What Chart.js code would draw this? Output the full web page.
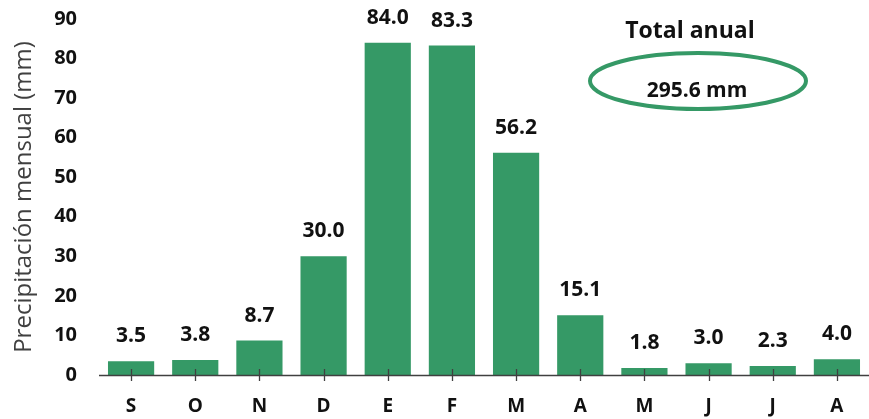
<!DOCTYPE html>
<html>
<head>
<meta charset="utf-8">
<script src="https://cdn.jsdelivr.net/npm/chart.js@4"></script>
<style>
  html, body { margin: 0; padding: 0; background: #fff; }
  #wrap { width: 869px; height: 419px; }
</style>
</head>
<body>
<div id="wrap"><canvas id="chart"></canvas></div>
<script>
// data
const months = ["S", "O", "N", "D", "E", "F", "M", "A", "M", "J", "J", "A"];
const precip = [3.5, 3.8, 8.7, 30.0, 84.0, 83.3, 56.2, 15.1, 1.8, 3.0, 2.3, 4.0];
const totalLabel = "Total anual";
const totalValue = "295.6 mm";

const green = "#359966";
const font = "'Open Sans', 'Liberation Sans', sans-serif";

// bar value labels, cross ticks on x axis and the total box
const extras = {
  id: "extras",
  afterDatasetsDraw(chart) {
    const ctx = chart.ctx;
    const meta = chart.getDatasetMeta(0);
    const x = chart.scales.x;
    const area = chart.chartArea;
    ctx.save();

    // axis line + ticks
    ctx.strokeStyle = "#404040";
    ctx.lineWidth = 1.3;
    ctx.beginPath();
    ctx.moveTo(area.left, area.bottom + 0.5);
    ctx.lineTo(area.right, area.bottom + 0.5);
    for (let i = 0; i < months.length; i++) {
      const px = Math.round(x.getPixelForTick(i)) + 0.5;
      ctx.moveTo(px, area.bottom - 6);
      ctx.lineTo(px, area.bottom + 6);
    }
    ctx.stroke();

    // value labels
    ctx.fillStyle = "#111";
    ctx.font = "bold 21px " + font;
    ctx.textAlign = "center";
    ctx.textBaseline = "alphabetic";
    meta.data.forEach((bar, i) => {
      ctx.fillText(precip[i].toFixed(1), bar.x, bar.y - 19);
    });

    // total box
    ctx.font = "bold 23px " + font;
    ctx.fillText(totalLabel, 690, 38);
    ctx.strokeStyle = green;
    ctx.lineWidth = 4;
    ctx.beginPath();
    ctx.ellipse(698, 81, 108, 28, 0, 0, Math.PI * 2);
    ctx.stroke();
    ctx.font = "bold 21px " + font;
    ctx.fillText(totalValue, 697, 97);
    ctx.restore();
  }
};

const config = {
  type: "bar",
  data: {
    labels: months,
    datasets: [{
      data: precip,
      backgroundColor: green,
      barPercentage: 0.72,
      categoryPercentage: 1.0
    }]
  },
  options: {
    responsive: true,
    maintainAspectRatio: false,
    animation: false,
    layout: { padding: { top: 19, right: 0, left: 0, bottom: 0 } },
    plugins: {
      legend: { display: false },
      tooltip: { enabled: false }
    },
    scales: {
      x: {
        grid: { display: false },
        border: { display: false },
        ticks: {
          color: "#111",
          font: { family: font, size: 19, weight: "bold" },
          padding: 12
        },
        afterFit: (s) => { s.height = 44; }
      },
      y: {
        min: 0,
        max: 90,
        grid: { display: false },
        border: { display: false },
        ticks: {
          stepSize: 10,
          color: "#111",
          font: { family: font, size: 20, weight: "bold" },
          padding: 14
        },
        title: {
          display: true,
          text: "Precipitación mensual (mm)",
          color: "#404040",
          font: { family: font, size: 24 },
          padding: { top: 10, bottom: 0 }
        },
        afterFit: (s) => { s.width = 99; s.paddingTop = 0; s.paddingBottom = 0; }
      }
    }
  },
  plugins: [extras]
};

new Chart(document.getElementById("chart"), config);
</script>
</body>
</html>
